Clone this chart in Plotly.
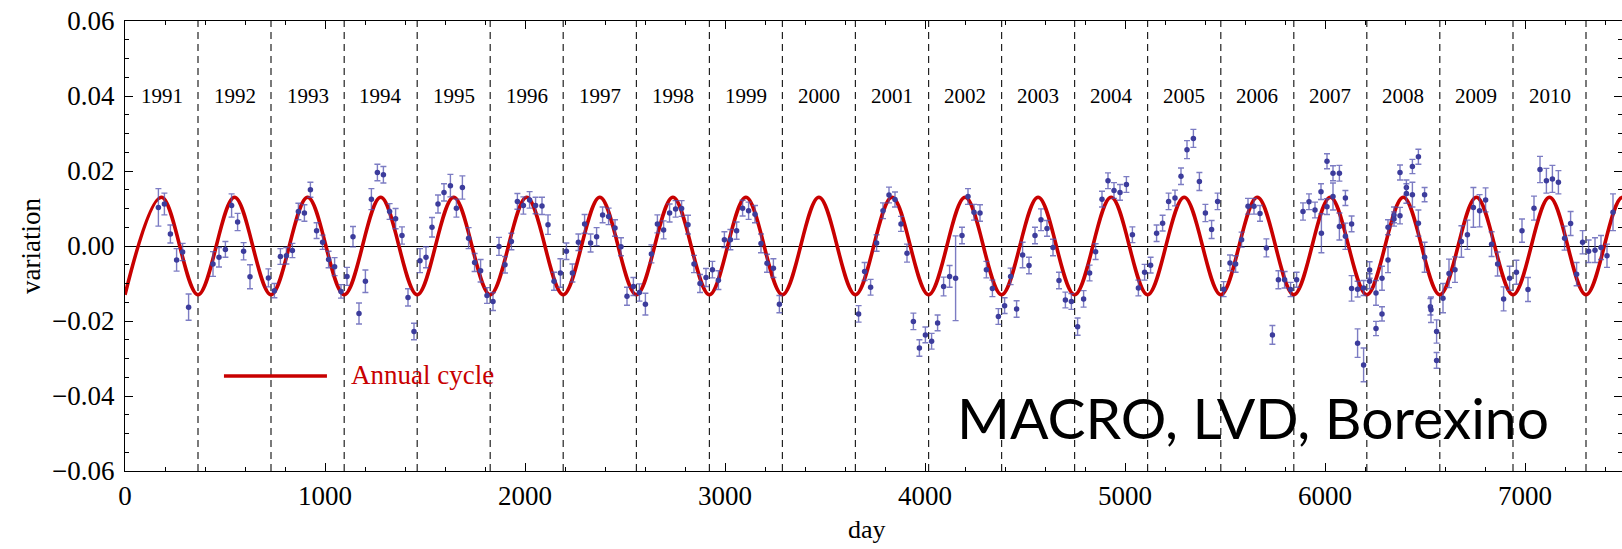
import plotly.graph_objects as go

# ---------------- data ----------------
macro_days = [167, 197, 227, 258, 288, 318, 440, 470, 502, 533, 563, 593, 625, 717, 747, 777, 807, 837, 867, 897,
              927, 958, 988, 1018, 1048, 1080, 1110, 1140, 1170, 1202, 1232, 1262, 1292, 1323, 1353, 1385, 1415, 1445,
              1475, 1505, 1535, 1565, 1595, 1627, 1657, 1687, 1718, 1748, 1778, 1810, 1840, 1870, 1900, 1932, 1962,
              1992, 2023, 2053, 2085, 2115, 2145, 2177, 2207, 2237, 2267, 2298, 2328, 2358, 2388, 2418, 2450, 2480,
              2510, 2542, 2572, 2602, 2632, 2662, 2693, 2723, 2753, 2783, 2815, 2845, 2875, 2905, 2937, 2967, 2997,
              3027, 3058, 3088, 3118, 3150, 3180, 3210, 3242, 3272]
macro_var = [0.0103, 0.0112, 0.0032, -0.0037, -0.0016, -0.0163, -0.0048, -0.0030, -0.0009, 0.0108, 0.0064, -0.0014,
             -0.0082, -0.0085, -0.0119, -0.0028, -0.0026, -0.0012, 0.0092, 0.0088, 0.0150, 0.0041, 0.0010, -0.0036,
             -0.0055, -0.0121, -0.0081, 0.0025, -0.0180, -0.0094, 0.0125, 0.0196, 0.0190, 0.0092, 0.0073, 0.0028,
             -0.0137, -0.0228, -0.0039, -0.0030, 0.0050, 0.0112, 0.0143, 0.0161, 0.0101, 0.0156, 0.0021, -0.0044,
             -0.0066, -0.0132, -0.0148, -0.0001, -0.0050, 0.0012, 0.0119, 0.0108, 0.0123, 0.0108, 0.0107, 0.0057,
             -0.0094, -0.0072, -0.0014, -0.0072, 0.0010, 0.0059, 0.0008, 0.0025, 0.0083, 0.0079, 0.0048, -0.0002,
             -0.0134, -0.0108, -0.0124, -0.0155, -0.0021, 0.0059, 0.0043, 0.0088, 0.0099, 0.0100, 0.0057, -0.0048,
             -0.0100, -0.0084, -0.0063, -0.0091, 0.0017, 0.0017, 0.0041, 0.0101, 0.0094, 0.0085, 0.0007, -0.0046,
             -0.0059, -0.0155]
macro_err = [0.0050, 0.0029, 0.0024, 0.0030, 0.0023, 0.0035, 0.0033, 0.0026, 0.0021, 0.0031, 0.0023, 0.0023,
             0.0032, 0.0024, 0.0019, 0.0021, 0.0022, 0.0019, 0.0022, 0.0022, 0.0020, 0.0021, 0.0019, 0.0022,
             0.0024, 0.0018, 0.0024, 0.0027, 0.0028, 0.0030, 0.0028, 0.0022, 0.0022, 0.0021, 0.0027, 0.0023,
             0.0023, 0.0022, 0.0032, 0.0028, 0.0026, 0.0024, 0.0023, 0.0030, 0.0024, 0.0031, 0.0028, 0.0024,
             0.0030, 0.0021, 0.0024, 0.0024, 0.0022, 0.0022, 0.0021, 0.0023, 0.0022, 0.0022, 0.0023, 0.0026,
             0.0024, 0.0038, 0.0022, 0.0024, 0.0022, 0.0025, 0.0024, 0.0024, 0.0021, 0.0022, 0.0022, 0.0024,
             0.0024, 0.0024, 0.0023, 0.0029, 0.0024, 0.0024, 0.0024, 0.0024, 0.0022, 0.0021, 0.0025, 0.0023,
             0.0024, 0.0024, 0.0022, 0.0025, 0.0021, 0.0027, 0.0023, 0.0021, 0.0023, 0.0023, 0.0025, 0.0024,
             0.0025, 0.0023]

lvd_days = [3668, 3698, 3728, 3758, 3790, 3820, 3850, 3880, 3910, 3942, 3972, 4002, 4033, 4063, 4093, 4123, 4153,
            4185, 4215, 4245, 4275, 4307, 4337, 4367, 4398, 4428, 4458, 4488, 4520, 4550, 4580, 4610, 4640, 4670,
            4702, 4732, 4763, 4793, 4823, 4853, 4885, 4915, 4945, 4975, 5007, 5037, 5067, 5098, 5128, 5158, 5188,
            5218, 5250, 5280, 5310, 5342, 5372, 5402, 5433, 5463, 5493, 5525, 5553, 5583, 5615, 5645, 5675, 5707,
            5737, 5767, 5798, 5828, 5858, 5890, 5920, 5950, 5980, 6010, 6040, 6072, 6102, 6133, 6163, 6193, 6223,
            6255, 6285, 6315, 6345, 6375, 6407, 6437, 6467, 6498, 6527, 6558]
lvd_var = [-0.0181, -0.0068, -0.0110, 0.0008, 0.0094, 0.0136, 0.0124, 0.0059, -0.0019, -0.0201, -0.0272, -0.0237,
           -0.0254, -0.0205, -0.0108, -0.0081, -0.0086, 0.0028, 0.0132, 0.0090, 0.0088, -0.0063, -0.0113, -0.0188,
           -0.0159, -0.0081, -0.0168, -0.0024, -0.0052, 0.0028, 0.0070, 0.0047, -0.0004, -0.0092, -0.0144, -0.0148,
           -0.0215, -0.0141, -0.0072, -0.0015, 0.0125, 0.0174, 0.0148, 0.0143, 0.0164, 0.0030, -0.0112, -0.0070,
           -0.0051, 0.0034, 0.0061, 0.0119, 0.0128, 0.0186, 0.0257, 0.0287, 0.0172, 0.0088, 0.0044, 0.0119,
           -0.0115, -0.0045, -0.0048, 0.0017, 0.0106, 0.0106, 0.0087, -0.0005, -0.0237, -0.0090, -0.0090, -0.0116,
           -0.0090, 0.0092, 0.0118, 0.0096, 0.0145, 0.0226, 0.0194, 0.0194, 0.0128, 0.0059, -0.0115, -0.0112,
           -0.0094, -0.0220, -0.0181, 0.0050, 0.0083, 0.0196, 0.0156, 0.0212, 0.0238, 0.0137, -0.0162, -0.0305]
lvd_err = [0.0022, 0.0024, 0.0021, 0.0022, 0.0021, 0.0021, 0.0020, 0.0020, 0.0024, 0.0022, 0.0022, 0.0021,
           0.0021, 0.0021, 0.0025, 0.0029, 0.0113, 0.0022, 0.0021, 0.0021, 0.0022, 0.0022, 0.0022, 0.0021,
           0.0021, 0.0022, 0.0022, 0.0034, 0.0022, 0.0022, 0.0029, 0.0021, 0.0022, 0.0022, 0.0021, 0.0021,
           0.0023, 0.0022, 0.0021, 0.0021, 0.0021, 0.0021, 0.0021, 0.0021, 0.0021, 0.0021, 0.0021, 0.0021,
           0.0021, 0.0022, 0.0021, 0.0022, 0.0021, 0.0022, 0.0024, 0.0024, 0.0024, 0.0023, 0.0024, 0.0022,
           0.0020, 0.0021, 0.0022, 0.0020, 0.0021, 0.0021, 0.0021, 0.0024, 0.0025, 0.0024, 0.0022, 0.0019,
           0.0020, 0.0023, 0.0021, 0.0021, 0.0021, 0.0020, 0.0020, 0.0021, 0.0020, 0.0021, 0.0021, 0.0020,
           0.0020, 0.0019, 0.0019, 0.0020, 0.0021, 0.0020, 0.0020, 0.0019, 0.0020, 0.0019, 0.0022, 0.0021]

borexino_days = [5982, 6010, 6040, 6072, 6102, 6133, 6163, 6193, 6223, 6255, 6285, 6315, 6345, 6375, 6407, 6437,
                 6467, 6498, 6530, 6558, 6590, 6620, 6650, 6682, 6712, 6742, 6773, 6803, 6833, 6863, 6893, 6923,
                 6957, 6985, 7015, 7045, 7075, 7107, 7137, 7167, 7198, 7228, 7258, 7288, 7318, 7350, 7380, 7410,
                 7440]
borexino_var = [0.0034, 0.0105, 0.0132, 0.0052, 0.0026, -0.0113, -0.0259, -0.0317, -0.0064, -0.0125, -0.0086,
                -0.0037, 0.0072, 0.0081, 0.0140, 0.0137, 0.0061, -0.0030, -0.0170, -0.0228, -0.0139, -0.0073,
                -0.0063, 0.0012, 0.0030, 0.0103, 0.0094, 0.0123, 0.0005, -0.0048, -0.0141, -0.0086, -0.0070,
                0.0041, -0.0116, 0.0101, 0.0204, 0.0174, 0.0179, 0.0170, 0.0021, 0.0060, -0.0075, 0.0010,
                -0.0014, -0.0011, -0.0004, -0.0026, 0.0090]
borexino_err = [0.0052, 0.0021, 0.0036, 0.0036, 0.0035, 0.0034, 0.0038, 0.0045, 0.0022, 0.0033, 0.0032, 0.0034,
                0.0019, 0.0022, 0.0026, 0.0033, 0.0035, 0.0040, 0.0034, 0.0031, 0.0039, 0.0038, 0.0034, 0.0042,
                0.0039, 0.0053, 0.0043, 0.0032, 0.0033, 0.0032, 0.0032, 0.0032, 0.0032, 0.0031, 0.0032, 0.0032,
                0.0035, 0.0033, 0.0036, 0.0031, 0.0032, 0.0032, 0.0031, 0.0031, 0.0030, 0.0033, 0.0032, 0.0031,
                0.0049]

# year boundaries (day of 1 January) and year labels
year_start_days = [0, 365, 730, 1096, 1461, 1826, 2191, 2557, 2922, 3287, 3652, 4018, 4383, 4748, 5113, 5479,
                   5844, 6209, 6574, 6940, 7305, 7670]
year_labels = ["1991", "1992", "1993", "1994", "1995", "1996", "1997", "1998", "1999", "2000",
               "2001", "2002", "2003", "2004", "2005", "2006", "2007", "2008", "2009", "2010"]

# annual cycle: minima at 1 January, maxima mid-year
cycle_min_value = -0.013
cycle_max_value = 0.013

# ---------------- figure ----------------
SERIF = "Liberation Serif, Times New Roman, serif"
RED = "#c80000"
POINT = "#3c3c9c"
BAR = "rgba(80,80,175,0.75)"

cycle_x, cycle_y = [], []
for i in range(len(year_start_days) - 1):
    a, b = year_start_days[i], year_start_days[i + 1]
    cycle_x += [a, (a + b) / 2]
    cycle_y += [cycle_min_value, cycle_max_value]
cycle_x.append(year_start_days[-1])
cycle_y.append(cycle_min_value)

fig = go.Figure()

fig.add_trace(go.Scatter(x=cycle_x, y=cycle_y, mode="lines",
                         line=dict(color=RED, width=3.6, shape="spline", smoothing=1.0),
                         hoverinfo="skip", showlegend=False))

for d, v, e in [(macro_days, macro_var, macro_err), (lvd_days, lvd_var, lvd_err),
                (borexino_days, borexino_var, borexino_err)]:
    fig.add_trace(go.Scatter(x=d, y=v, mode="markers",
                             marker=dict(color=POINT, size=5.5),
                             error_y=dict(type="data", array=e, color=BAR, thickness=1.4, width=3),
                             showlegend=False))

shapes = []
for d in year_start_days[1:-1]:
    shapes.append(dict(type="line", xref="x", yref="paper", x0=d, x1=d, y0=0, y1=1,
                       line=dict(color="#222222", width=1.2, dash="7px,5px"), layer="below"))
# legend line
shapes.append(dict(type="line", xref="paper", yref="paper", x0=0.0661, x1=0.1349, y0=0.2111, y1=0.2111,
                   line=dict(color=RED, width=3.6)))

annotations = []
for i, lab in enumerate(year_labels):
    mid = (year_start_days[i] + year_start_days[i + 1]) / 2
    annotations.append(dict(x=mid, y=0.040, xref="x", yref="y", text=lab, showarrow=False,
                            xanchor="center", yanchor="middle",
                            font=dict(family=SERIF, size=21, color="black")))
annotations += [
    dict(x=0.1496, y=0.2140, xref="paper", yref="paper", text="Annual cycle", showarrow=False,
         xanchor="left", yanchor="middle", font=dict(family=SERIF, size=27, color=RED)),
    dict(x=0.7535, y=0.1200, xref="paper", yref="paper", text="MACRO, LVD, Borexino", showarrow=False,
         xanchor="center", yanchor="middle", font=dict(family="Lato, Open Sans, sans-serif", size=57, color="black")),
    dict(x=-0.0628, y=0.5, xref="paper", yref="paper", text="variation", showarrow=False, textangle=-90,
         xanchor="center", yanchor="middle", font=dict(family=SERIF, size=27, color="black")),
    dict(x=0.4957, y=-0.1300, xref="paper", yref="paper", text="day", showarrow=False,
         xanchor="center", yanchor="middle", font=dict(family=SERIF, size=26, color="black")),
]

axis_common = dict(showgrid=False, showline=True, linecolor="black", linewidth=1.2, mirror="allticks",
                   ticks="inside", ticklen=8, tickwidth=1, tickcolor="black",
                   tickfont=dict(family=SERIF, size=27, color="black"))

fig.update_layout(
    width=1622, height=549,
    margin=dict(l=125, r=0, t=21, b=78),
    paper_bgcolor="white", plot_bgcolor="white",
    shapes=shapes, annotations=annotations,
    xaxis=dict(range=[0, 7485], dtick=1000, tick0=0, zeroline=False,
               minor=dict(dtick=200, ticklen=4, ticks="inside", tickcolor="black"),
               **axis_common),
    yaxis=dict(range=[-0.06, 0.06], dtick=0.02, tick0=0, tickformat=".2f",
               zeroline=True, zerolinecolor="black", zerolinewidth=1.2,
               minor=dict(dtick=0.005, ticklen=4, ticks="inside", tickcolor="black"),
               ticklabelstandoff=4,
               **axis_common),
)

fig.write_html("out.html")
